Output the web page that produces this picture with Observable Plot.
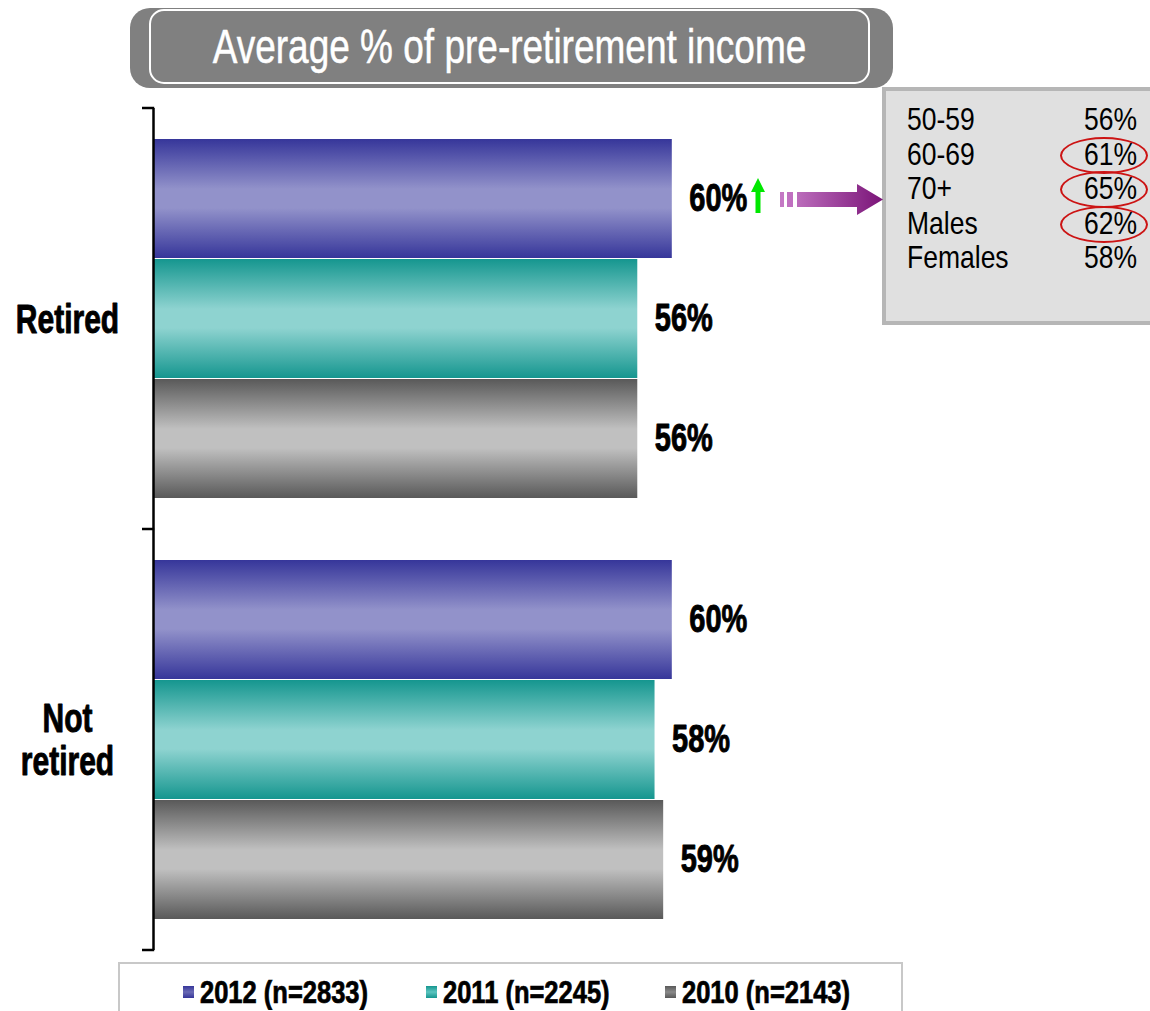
<!DOCTYPE html>
<html><head><meta charset="utf-8">
<script src="https://cdn.jsdelivr.net/npm/d3@7"></script>
<script src="https://cdn.jsdelivr.net/npm/@observablehq/plot@0.6"></script>
<style>
body{margin:0;background:#fff;font-family:"Liberation Sans",Arial,sans-serif;}
#wrap{position:relative;width:1150px;height:1011px;overflow:hidden;background:#fff;}
#chart{position:absolute;left:0;top:0;}
#overlay{position:absolute;left:0;top:0;pointer-events:none;}
.title{position:absolute;left:130px;top:8px;width:763px;height:80px;background:#808080;border-radius:20px;}
.title-inner{position:absolute;left:19px;top:1px;width:721px;height:75px;box-sizing:border-box;border:2.5px solid #fff;border-radius:15px;display:flex;align-items:center;justify-content:center;}
.title-inner span{color:#fff;font-size:37px;display:inline-block;transform:scaleY(1.3);white-space:nowrap;-webkit-text-stroke:0.4px #fff;}
.callout{position:absolute;left:882px;top:87px;width:290px;height:238px;box-sizing:border-box;background:#e0e0e0;border:4px solid #b6b6b6;}
.row{position:absolute;left:0;height:34px;line-height:34px;font-size:26.5px;color:#000;width:251px;}
.row .lab{position:absolute;left:21px;top:0;display:inline-block;transform:scaleY(1.15);}
.row .val{position:absolute;right:0;top:0;display:inline-block;transform:scaleY(1.15);}
.ring{position:absolute;box-sizing:border-box;border:2px solid #cc1414;border-radius:50%;}
.legend{position:absolute;left:118px;top:962px;width:785px;height:70px;box-sizing:border-box;border:2px solid #c8c8c8;background:#fff;}
.item{position:absolute;top:14px;height:28px;display:flex;align-items:center;font-weight:bold;font-size:25.5px;color:#000;}
.item .sw{width:11px;height:12px;margin-right:6px;}
.item .tx{display:inline-block;transform:scaleY(1.2);white-space:nowrap;-webkit-text-stroke:0.6px #000;}
</style>
</head><body>
<div id="wrap">
  <div id="chart"></div>
  <div class="title"><div class="title-inner"><span id="titleText"></span></div></div>
  <div class="callout" id="callout"></div>
  <div class="legend" id="legend"></div>
  <svg id="overlay" width="1150" height="1011"></svg>
</div>
<script>
// ---- data ----
const titleText = "Average % of pre-retirement income";
const groups = ["Retired", "Not retired"];
const years = ["2012", "2011", "2010"];
const sampleSizes = [2833, 2245, 2143];
const retiredValues = [60, 56, 56];
const notRetiredValues = [60, 58, 59];
const calloutLabels = ["50-59", "60-69", "70+", "Males", "Females"];
const calloutValues = [56, 61, 65, 62, 58];
const calloutCircled = [false, true, true, true, false];

// ---- styles ----
const gradStops = {
  "2012": ["#36369a", "#9292ca"],
  "2011": ["#15968f", "#8ed3d0"],
  "2010": ["#595959", "#c0c0c0"]
};
const swatchColors = {"2012": "#6a6ab4", "2011": "#5cc4bf", "2010": "#8a8a8a"};

const valuesByGroup = {"Retired": retiredValues, "Not retired": notRetiredValues};
const data = groups.flatMap(g => years.map((y, j) => ({group: g, year: y, value: valuesByGroup[g][j]})));

const chart = Plot.plot({
  width: 1150,
  height: 1011,
  marginTop: 107,
  marginBottom: 61,
  marginLeft: 154,
  marginRight: 133,
  style: {fontFamily: "'Liberation Sans', Arial, sans-serif", background: "transparent"},
  x: {domain: [0, 100], axis: null},
  y: {domain: years, axis: null, paddingInner: 0.012, paddingOuter: 0.26},
  fy: {domain: groups, axis: null, padding: 0},
  color: {domain: years, range: years.map(y => `url(#grad${y})`)},
  marks: [
    Plot.barX(data, {x: "value", y: "year", fy: "group", fill: "year"}),
    Plot.text(data, {x: "value", y: "year", fy: "group", text: d => d.value + "%", dx: 17,
      textAnchor: "start", fontSize: 29, fontWeight: "bold", fill: "#000", stroke: "#000", strokeWidth: 0.7}),
    Plot.text(groups, {fy: d => d, text: d => d.replace(" ", "\n"), frameAnchor: "left", dx: -87,
      textAnchor: "middle", fontSize: 30, fontWeight: "bold", fill: "#000", stroke: "#000", strokeWidth: 0.7,
      lineHeight: 1.08}),
    Plot.ruleX([0], {stroke: "#000", strokeWidth: 2.5, dx: -1})
  ]
});
document.getElementById("chart").appendChild(chart);

const svg = d3.select(chart);
const defs = svg.insert("defs", ":first-child");
years.forEach(y => {
  const [edge, mid] = gradStops[y];
  const g = defs.append("linearGradient").attr("id", "grad" + y)
    .attr("x1", 0).attr("y1", 0).attr("x2", 0).attr("y2", 1);
  [[0, edge], [0.42, mid], [0.58, mid], [1, edge]].forEach(([o, c]) =>
    g.append("stop").attr("offset", o).attr("stop-color", c));
});

// vertically stretched text, as in the reference
svg.selectAll("text").each(function() {
  const t = this.getAttribute("transform");
  if (t) this.setAttribute("transform", t + " scale(1,1.33)");
  else {
    const x = +this.getAttribute("x") || 0, y = +this.getAttribute("y") || 0;
    this.setAttribute("x", 0); this.setAttribute("y", 0);
    this.setAttribute("transform", `translate(${x},${y}) scale(1,1.33)`);
  }
});

// category separator ticks on the axis
const fy = chart.scale("fy");
const xs = chart.scale("x");
const x0 = xs.apply(0) - 1;
const bounds = fy.domain.map(d => fy.apply(d)).concat([fy.apply(fy.domain[fy.domain.length - 1]) + fy.bandwidth]);
svg.append("g").selectAll("line").data(bounds).join("line")
  .attr("x1", x0 - 11).attr("x2", x0 + 1.2).attr("y1", d => d).attr("y2", d => d)
  .attr("stroke", "#000").attr("stroke-width", 2.5);

// title
document.getElementById("titleText").textContent = titleText;

// callout
const callout = d3.select("#callout");
calloutLabels.forEach((lab, i) => {
  const top = 12 + i * 34.5;
  const row = callout.append("div").attr("class", "row").style("top", top + "px");
  row.append("span").attr("class", "lab").text(lab);
  row.append("span").attr("class", "val").text(calloutValues[i] + "%");
  if (calloutCircled[i]) {
    callout.append("div").attr("class", "ring")
      .style("left", "174px").style("width", "88px")
      .style("top", (top - 1) + "px").style("height", "37px");
  }
});

// legend
const legend = d3.select("#legend");
const legendLefts = [63, 306, 545];
years.forEach((y, i) => {
  const it = legend.append("div").attr("class", "item").style("left", legendLefts[i] + "px");
  it.append("div").attr("class", "sw").style("background",
    `linear-gradient(${gradStops[y][0]}, ${swatchColors[y]} 50%, ${gradStops[y][0]})`);
  it.append("span").attr("class", "tx").text(`${y} (n=${sampleSizes[i]})`);
});

// annotations: green up arrow and purple pointer arrow
const ov = d3.select("#overlay");
const od = ov.append("defs");
const pg = od.append("linearGradient").attr("id", "purp").attr("x1", 0).attr("x2", 1).attr("y1", 0).attr("y2", 0);
pg.append("stop").attr("offset", 0).attr("stop-color", "#bb6cbb");
pg.append("stop").attr("offset", 1).attr("stop-color", "#7a1478");
ov.append("path").attr("fill", "#00e800")
  .attr("d", "M758,178 L765,192 L760.5,192 L760.5,213 L755.5,213 L755.5,192 L751,192 Z");
ov.append("rect").attr("x", 780).attr("y", 192).attr("width", 4).attr("height", 15).attr("fill", "#c478c4");
ov.append("rect").attr("x", 787).attr("y", 192).attr("width", 6).attr("height", 15).attr("fill", "#c070c0");
ov.append("path").attr("fill", "url(#purp)")
  .attr("d", "M797,192 L857,192 L857,184 L883,199.5 L857,215 L857,207 L797,207 Z");
</script>
</body></html>
